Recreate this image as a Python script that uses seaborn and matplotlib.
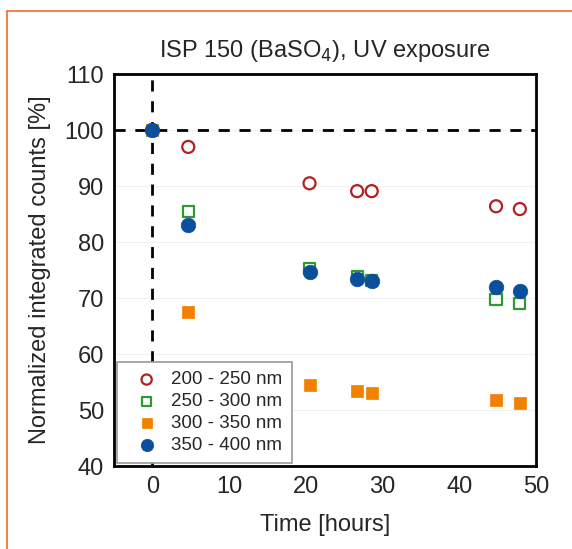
import numpy as np
import pandas as pd
import matplotlib
matplotlib.use("Agg")
import matplotlib.pyplot as plt
from matplotlib.lines import Line2D
import seaborn as sns

# data
time_h = [0, 4.7, 20.5, 26.7, 28.6, 44.8, 47.9]
band_200_250 = [100, 97.0, 90.5, 89.1, 89.1, 86.4, 85.9]
band_250_300 = [100, 85.5, 75.3, 73.8, 73.2, 69.7, 69.0]
band_300_350 = [100, 67.5, 54.4, 53.4, 53.0, 51.8, 51.2]
band_350_400 = [100, 83.0, 74.6, 73.4, 73.1, 72.0, 71.2]
labels = ["200 - 250 nm", "250 - 300 nm", "300 - 350 nm", "350 - 400 nm"]
colors = ["#b41f1f", "#2f9a33", "#f28100", "#0b4f9c"]

sns.set_style("white")
plt.rcParams['font.family'] = ['Liberation Sans', 'DejaVu Sans']

fig = plt.figure(figsize=(5.72, 5.49), dpi=100)
ax = fig.add_axes([0.199, 0.151, 0.738, 0.714])

series = [band_200_250, band_250_300, band_300_350, band_350_400]
styles = [("o", False), ("s", False), ("s", True), ("o", True)]
for vals, lab, col, (mk, filled) in zip(series, labels, colors, styles):
    df = pd.DataFrame({"t": time_h, "v": vals})
    if filled:
        sns.scatterplot(data=df, x="t", y="v", ax=ax, marker=mk, color=col,
                        s=110 if mk == "o" else 80, edgecolor=col, linewidth=0.5,
                        label=lab, zorder=3)
    else:
        sns.scatterplot(data=df, x="t", y="v", ax=ax, marker=mk, facecolors="none",
                        edgecolor=col, s=75 if mk == "o" else 65, linewidth=1.6,
                        label=lab, zorder=3)

ax.axhline(100, color="black", lw=2, ls=(0, (4, 3.5)), zorder=2)
ax.axvline(0, color="black", lw=2, ls=(0, (4, 3.5)), zorder=2)

ax.set_xlim(-5, 50)
ax.set_ylim(40, 110)
ax.set_xticks([0, 10, 20, 30, 40, 50])
ax.set_yticks(np.arange(40, 111, 10))
ax.yaxis.grid(True, color="#f0f0f0", lw=0.8)
ax.set_axisbelow(True)
ax.tick_params(length=0, labelsize=17, pad=7)
for sp in ax.spines.values():
    sp.set_color("black")
    sp.set_linewidth(2)

ax.set_xlabel("Time [hours]", fontsize=17, labelpad=12)
ax.set_ylabel("Normalized integrated counts [%]", fontsize=17, labelpad=10)
ax.set_title("ISP 150 (BaSO$_4$), UV exposure", fontsize=17, pad=12)

leg = ax.legend(loc="lower left", fontsize=13.5, frameon=True, fancybox=False,
                framealpha=1, edgecolor="#999999", handletextpad=0.2,
                borderpad=0.5, labelspacing=0.25, borderaxespad=0.15,
                handlelength=2.2, markerscale=0.85)
leg.get_frame().set_linewidth(1.2)
leg.set_zorder(5)

# orange frame lines of the source page
fig.add_artist(Line2D([7 / 572, 7 / 572], [0, 1 - 11 / 549], color="#f26a2a", lw=1.2))
fig.add_artist(Line2D([7 / 572, 1], [1 - 11 / 549, 1 - 11 / 549], color="#f26a2a", lw=1.2))

fig.savefig("out.png", dpi=100, facecolor="white")
